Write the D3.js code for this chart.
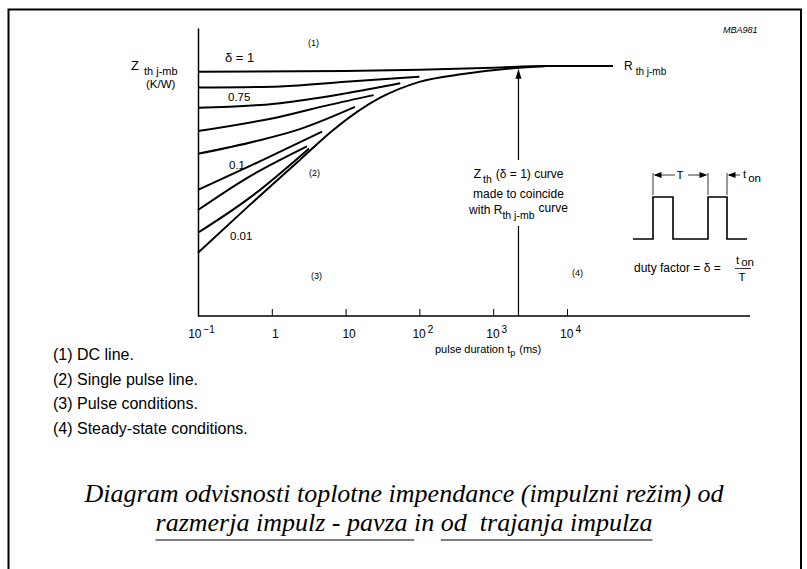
<!DOCTYPE html>
<html>
<head>
<meta charset="utf-8">
<script src="https://cdn.jsdelivr.net/npm/d3@7"></script>
<style>
  body { margin: 0; background: #fff; }
  svg text { font-family: "Liberation Sans", Arial, Helvetica, sans-serif; fill: #000; }
  svg text.caption { font-family: "Liberation Serif", "Times New Roman", serif; font-style: italic; white-space: pre; }
</style>
</head>
<body>
<script>
// x axis: pulse duration tp (ms), log scale
const tpTicks = [0.1, 1, 10, 100, 1000, 10000];
const tickBase = ['10', '1', '10', '10', '10', '10'];
const tickExp = ['\u22121', '', '', '2', '3', '4'];

// Zth j-mb curves (relative units, no y ticks on the original), [tp, Zth]
const curveDelta1 = [[0.1, 8.48], [10, 8.51], [100, 8.55], [1000, 8.62], [5000, 8.68], [42000, 8.68]];
const curveDelta075 = [[0.1, 7.93], [1.3, 7.97], [10, 8.13], [100, 8.31]];
const curveDelta05 = [[0.1, 7.23], [1.3, 7.39], [10, 7.73], [55, 8.08]];
const curveDelta02 = [[0.1, 6.42], [1.3, 6.92], [6, 7.33], [24, 7.67]];
const curveDelta01 = [[0.1, 5.63], [0.63, 6.08], [2.4, 6.49], [13.4, 7.26]];
const curveDelta005 = [[0.1, 4.38], [0.76, 5.42], [4.8, 6.4]];
const curveDelta002 = [[0.1, 3.68], [0.46, 4.79], [3.0, 5.89]];
const curveDelta001 = [[0.1, 2.89], [0.5, 4.1], [3.2, 5.82]];
const curveSingle = [[0.1, 2.2], [0.5, 3.85], [2.4, 5.42], [6.8, 6.46], [29, 7.57], [100, 8.13], [390, 8.4], [1850, 8.6], [5000, 8.67]];

const curves = [curveDelta1, curveDelta075, curveDelta05, curveDelta02, curveDelta01,
  curveDelta005, curveDelta002, curveDelta001, curveSingle];

// Zth(δ=1) made to coincide with Rth at this pulse duration
const coincideTp = 2200;
const coincideZ = 8.62;

const notes = ['(1) DC line.', '(2) Single pulse line.', '(3) Pulse conditions.', '(4) Steady-state conditions.'];
const captionLine1 = 'Diagram odvisnosti toplotne impendance (impulzni režim) od';
const captionLine2 = 'razmerja impulz - pavza in od  trajanja impulza';

const W = 807, H = 569;

const x = d3.scaleLog().domain([0.1, 10000]).range([198, 567]);
const y = d3.scaleLinear().domain([0, 10]).range([316, 28]);

const svg = d3.create('svg')
  .attr('width', W)
  .attr('height', H)
  .attr('viewBox', [0, 0, W, H])
  .style('background', '#fff');
document.body.appendChild(svg.node());

// outer frame (open at the bottom, cut off in the scan)
svg.append('path')
  .attr('d', `M8.5,${H} V9.5 H801 V${H}`)
  .attr('fill', 'none')
  .attr('stroke', '#000')
  .attr('stroke-width', 2);

svg.append('text')
  .attr('x', 723).attr('y', 33)
  .attr('font-size', 9).attr('font-style', 'italic')
  .text('MBA981');

// axes
const xAxis = svg.append('g')
  .attr('transform', `translate(0,${y(0)})`)
  .call(d3.axisBottom(x).tickValues(tpTicks).tickSize(-7).tickSizeOuter(0).tickFormat(() => ''));
xAxis.select('.domain').attr('d', `M${x.range()[0]},0H750`).attr('stroke-width', 1.5);
xAxis.selectAll('.tick line').attr('stroke-width', 1);

xAxis.selectAll('.tick text')
  .attr('font-size', 12)
  .attr('y', 22)
  .attr('dy', 0)
  .attr('dx', 3)
  .each(function(d, i) {
    const t = d3.select(this);
    t.append('tspan').text(tickBase[i]);
    if (tickExp[i]) {
      t.append('tspan').attr('font-size', 10).attr('dy', -5).attr('dx', 2).text(tickExp[i]);
    }
  });

svg.append('g')
  .attr('transform', `translate(${x.range()[0]},0)`)
  .call(d3.axisLeft(y).tickValues([]).tickSizeOuter(0))
  .select('.domain').attr('stroke-width', 1.5);

// axis titles
const yTitle = svg.append('text').attr('x', 131).attr('y', 70).attr('font-size', 13);
yTitle.append('tspan').text('Z');
yTitle.append('tspan').attr('font-size', 11).attr('dx', 5).attr('dy', 5).text('th j-mb');
svg.append('text').attr('x', 146).attr('y', 88).attr('font-size', 11.5).text('(K/W)');

const xTitle = svg.append('text').attr('x', 435).attr('y', 353).attr('font-size', 11);
xTitle.append('tspan').text('pulse duration t');
xTitle.append('tspan').attr('font-size', 9).attr('dy', 3).text('p');
xTitle.append('tspan').attr('dy', -3).attr('dx', 4).text('(ms)');

// curves
const line = d3.line()
  .x(d => x(d[0]))
  .y(d => y(d[1]))
  .curve(d3.curveMonotoneX);

svg.append('g')
  .attr('fill', 'none')
  .attr('stroke', '#000')
  .attr('stroke-width', 2)
  .selectAll('path')
  .data(curves)
  .join('path')
  .attr('d', line);

// curve labels and region numbers
const labels = [
  { t: 'δ = 1', x: 225, y: 62, s: 13 },
  { t: '0.75', x: 228, y: 101, s: 11.5 },
  { t: '0.1', x: 229, y: 169, s: 11.5 },
  { t: '0.01', x: 230, y: 240, s: 11.5 },
  { t: '(1)', x: 308, y: 46, s: 9 },
  { t: '(2)', x: 309, y: 176, s: 9 },
  { t: '(3)', x: 311, y: 279, s: 9 },
  { t: '(4)', x: 572, y: 276, s: 9 }
];
svg.append('g').selectAll('text')
  .data(labels)
  .join('text')
  .attr('x', d => d.x).attr('y', d => d.y)
  .attr('font-size', d => d.s)
  .text(d => d.t);

const rth = svg.append('text').attr('x', 624).attr('y', 70).attr('font-size', 12);
rth.append('tspan').text('R');
rth.append('tspan').attr('font-size', 10).attr('dx', 3).attr('dy', 5).text('th j-mb');

// vertical arrow pointing to the coincidence point, broken by its note
const ax = x(coincideTp);
const gapTop = 160, gapBottom = 226;
svg.append('path')
  .attr('d', `M${ax},${y(0)}V${gapBottom}M${ax},${gapTop}V${y(coincideZ) + 8}`)
  .attr('stroke', '#000').attr('stroke-width', 1.2);
svg.append('path')
  .attr('d', `M${ax},${y(coincideZ) + 1}l-3,10h6z`)
  .attr('fill', '#000');

const note = svg.append('g').attr('font-size', 12).attr('text-anchor', 'middle');
const n1 = note.append('text').attr('x', ax).attr('y', 178);
n1.append('tspan').attr('font-size', 12.5).text('Z');
n1.append('tspan').attr('font-size', 10.5).attr('dx', 2).attr('dy', 5).text('th');
n1.append('tspan').attr('dx', 4).attr('dy', -5).text('(δ = 1) curve');
note.append('text').attr('x', ax).attr('y', 198).text('made to coincide');
const n3 = note.append('text').attr('x', ax).attr('y', 214);
n3.append('tspan').text('with R');
n3.append('tspan').attr('font-size', 10.5).attr('dy', 5).text('th j-mb');
n3.append('tspan').attr('dx', 4).attr('dy', -7).text('curve');

// pulse train inset
const pulse = svg.append('g').attr('stroke', '#000').attr('fill', 'none');
const lo = 239, hi = 197;
pulse.append('path')
  .attr('stroke-width', 1.6)
  .attr('d', `M633,${lo}H653V${hi}H673V${lo}H708V${hi}H727V${lo}H747`);
pulse.append('path')
  .attr('stroke-width', 0.8)
  .attr('d', 'M653,173V195M708,173V195M727,173V195M655,175H675M688,175H706M729,175H740');
const heads = svg.append('g').attr('fill', '#000');
heads.append('path').attr('d', 'M653.5,175l8,-3v6z');
heads.append('path').attr('d', 'M707.5,175l-8,-3v6z');
heads.append('path').attr('d', 'M727.5,175l8,-3v6z');
svg.append('text').attr('x', 680).attr('y', 179).attr('font-size', 11.5).attr('text-anchor', 'middle').text('T');
const ton = svg.append('text').attr('x', 743).attr('y', 178).attr('font-size', 11.5);
ton.append('tspan').text('t');
ton.append('tspan').attr('dx', 2).attr('dy', 4).text('on');

svg.append('text').attr('x', 634).attr('y', 272).attr('font-size', 12).text('duty factor = δ =');
const frac = svg.append('text').attr('x', 736).attr('y', 264).attr('font-size', 11.5);
frac.append('tspan').text('t');
frac.append('tspan').attr('dx', 2).attr('dy', 2).text('on');
svg.append('line').attr('x1', 735).attr('x2', 751).attr('y1', 268.5).attr('y2', 268.5)
  .attr('stroke', '#000').attr('stroke-width', 0.8);
svg.append('text').attr('x', 742).attr('y', 281).attr('font-size', 11.5).attr('text-anchor', 'middle').text('T');

// notes
svg.append('g').selectAll('text')
  .data(notes)
  .join('text')
  .attr('x', 53)
  .attr('y', (d, i) => 360 + i * 24.5)
  .attr('font-size', 16)
  .text(d => d);

// caption
svg.append('text').attr('class', 'caption')
  .attr('x', 404).attr('y', 502).attr('font-size', 26).attr('text-anchor', 'middle')
  .text(captionLine1);
const cap2 = svg.append('text').attr('class', 'caption')
  .attr('x', 404).attr('y', 531).attr('font-size', 26).attr('text-anchor', 'middle')
  .text(captionLine2);

const underline = (node, from, to) => {
  const n = node.getNumberOfChars();
  const x1 = node.getStartPositionOfChar(Math.min(from, n - 1)).x;
  const x2 = node.getEndPositionOfChar(Math.min(to, n - 1)).x;
  svg.append('line')
    .attr('x1', x1).attr('x2', x2)
    .attr('y1', 540).attr('y2', 540)
    .attr('stroke', '#000').attr('stroke-width', 1.2);
};
const c2 = cap2.node();
const inAt = captionLine2.indexOf(' in ');
underline(c2, 0, inAt);
underline(c2, captionLine2.indexOf('od'), captionLine2.length - 1);
</script>
</body>
</html>
